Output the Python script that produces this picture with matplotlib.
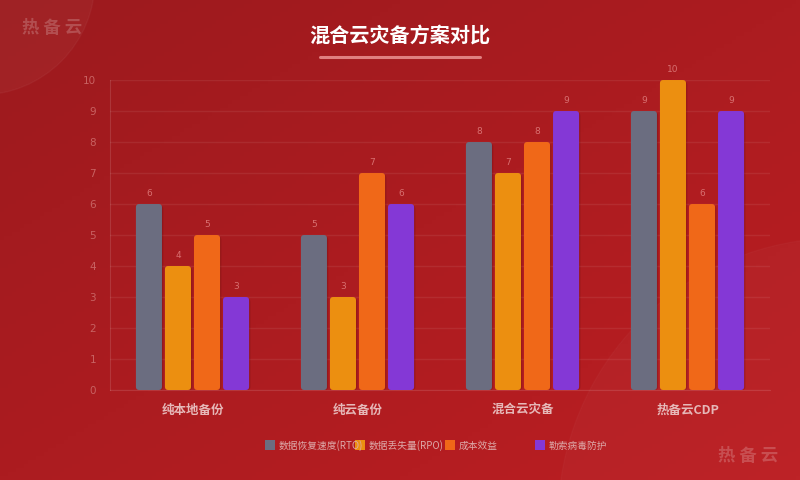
import matplotlib.pyplot as plt
import numpy as np
from matplotlib.patches import FancyBboxPatch, Rectangle, Circle

plt.rcParams['font.family'] = ['Noto Sans CJK SC', 'DejaVu Sans']

categories = ['纯本地备份', '纯云备份', '混合云灾备', '热备云CDP']
series_names = ['数据恢复速度(RTO)', '数据丢失量(RPO)', '成本效益', '勒索病毒防护']
rto = [6, 5, 8, 9]
rpo = [4, 3, 7, 10]
cost = [5, 7, 8, 6]
ransom = [3, 6, 9, 9]
series = [rto, rpo, cost, ransom]
colors = ['#6b6d80', '#ec8f10', '#f06818', '#8438d6']

fig = plt.figure(figsize=(8, 4.8), dpi=100)

# -- fondo degradado
bg = fig.add_axes([0, 0, 1, 1], zorder=-10)
gx, gy = np.meshgrid(np.linspace(0, 1, 200), np.linspace(0, 1, 120))
t = (gx + gy) / 2
c0 = np.array([0x9c, 0x1a, 0x1e]) / 255
c1 = np.array([0xbc, 0x1e, 0x22]) / 255
img = c0[None, None, :] * (1 - t[..., None]) + c1[None, None, :] * t[..., None]
bg.imshow(img, extent=[0, 800, 0, 480], aspect='auto', origin='upper')
bg.add_patch(Circle((-20, 500), 115, color='white', alpha=0.035))
bg.add_patch(Circle((840, -40), 282, color='white', alpha=0.025))
bg.set_xlim(0, 800)
bg.set_ylim(0, 480)
bg.axis('off')

ax = fig.add_axes([0.1375, 0.1875, 0.825, 0.6458])
ax.patch.set_alpha(0)

w = 0.158
step = 0.176
x = np.arange(len(categories))
aspect = (1 / 31) / (1 / 165)
for i, vals in enumerate(series):
    pos = x + (i - 1.5) * step
    bars = ax.bar(pos, vals, width=w, color=colors[i])
    for b, v in zip(bars, vals):
        b.set_visible(False)
        # sombra
        sh = FancyBboxPatch((b.get_x() + 0.008, 0), w, v - 0.05,
                            boxstyle='round,pad=0,rounding_size=0.02',
                            mutation_aspect=aspect, color='#5a0a0c', alpha=0.25,
                            lw=0, zorder=2)
        ax.add_patch(sh)
        p = FancyBboxPatch((b.get_x(), 0), w, v,
                           boxstyle='round,pad=0,rounding_size=0.02',
                           mutation_aspect=aspect, color=colors[i], lw=0, zorder=3)
        ax.add_patch(p)
        ax.text(b.get_x() + w / 2, v + 0.18, str(v), ha='center', va='bottom',
                fontsize=6.5, color='#d87070', family='DejaVu Sans', zorder=4)

ax.set_xlim(-0.5, 3.5)
ax.set_ylim(0, 10)
ax.set_yticks(range(0, 11))
ax.set_xticks(x)
ax.set_xticklabels(categories, fontsize=9, fontweight='bold', color='#e6b8b8')
ax.tick_params(axis='y', length=0, labelsize=7.5, labelcolor='#c86262', pad=10)
ax.tick_params(axis='x', length=0, pad=10)
for lbl in ax.get_yticklabels():
    lbl.set_family('DejaVu Sans')
ax.grid(axis='y', color='#ffffff', alpha=0.07, lw=1)
ax.set_axisbelow(True)
for s in ['top', 'right']:
    ax.spines[s].set_visible(False)
for s in ['left', 'bottom']:
    ax.spines[s].set_color('#ffffff')
    ax.spines[s].set_alpha(0.12)

# -- título
fig.text(0.5, 0.927, '混合云灾备方案对比', ha='center', va='center', fontsize=14.5,
         fontweight='bold', color='white')
fig.add_artist(plt.Line2D([0.4, 0.6], [0.882, 0.882], color='#e08080', lw=2.2,
                          solid_capstyle='round'))

# -- leyenda
for i, name in enumerate(series_names):
    lx = 265 + i * 90
    fig.add_artist(Rectangle((lx / 800, 1 - 450 / 480), 10 / 800, 10 / 480,
                             color=colors[i], lw=0))
    fig.text((lx + 14) / 800, 1 - 446 / 480, name, ha='left', va='center',
             fontsize=7, color='#dda8a8')

# -- marcas de agua
fig.text(22 / 800, 1 - 28 / 480, '热 备 云', ha='left', va='center', fontsize=12.5,
         fontweight='bold', color='#ffffff', alpha=0.2)
fig.text(778 / 800, 1 - 456 / 480, '热 备 云', ha='right', va='center', fontsize=12.5,
         fontweight='bold', color='#ffffff', alpha=0.2)

fig.savefig('out.png', dpi=100)
